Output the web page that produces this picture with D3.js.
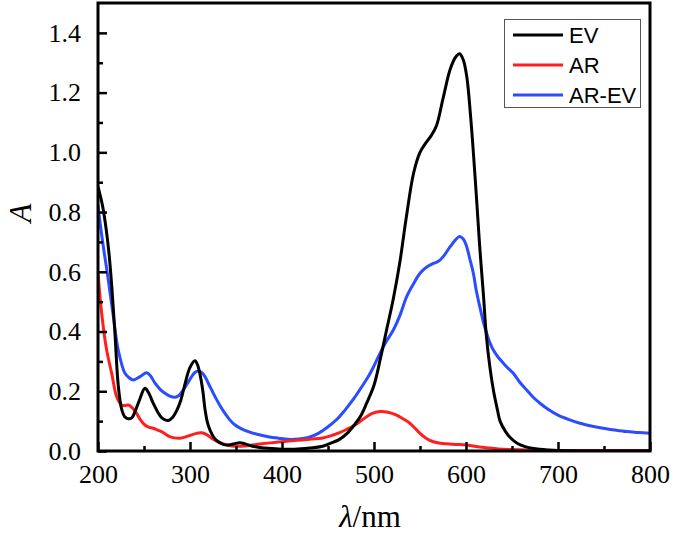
<!DOCTYPE html>
<html><head><meta charset="utf-8">
<script src="https://cdn.jsdelivr.net/npm/d3@7"></script>
<style>body{margin:0;background:#fff}</style>
</head><body>
<svg id="c" width="673" height="535"></svg>
<script>
const evWl = [200,205,209,212,215,218.5,222,225.7,229,233,237,240,245,251,255,260,265,269,273,276.5,281,285.5,290,294.6,300,305.4,308,311,314,316.3,319,322,326,331,336,342,348,354,360,367,376,385,400,414,430,443,452,462,471,480,486,492,500,507,514,521,528,535,543,550,556,562,568,575,583,589,593,597,601,605,608,612,615,619,622,626,630,634,637,643,648,656,666,680,700,750,800];
const evA  = [0.885,0.82,0.74,0.66,0.55,0.39,0.22,0.14,0.115,0.108,0.112,0.13,0.17,0.21,0.195,0.16,0.13,0.112,0.104,0.102,0.112,0.135,0.17,0.225,0.28,0.302,0.29,0.255,0.2,0.14,0.095,0.068,0.045,0.03,0.022,0.02,0.024,0.028,0.024,0.017,0.012,0.009,0.006,0.006,0.01,0.015,0.025,0.038,0.06,0.093,0.12,0.16,0.22,0.31,0.41,0.51,0.63,0.78,0.93,1.0,1.03,1.055,1.09,1.18,1.28,1.32,1.33,1.31,1.25,1.12,1.0,0.82,0.68,0.52,0.39,0.28,0.2,0.14,0.1,0.065,0.045,0.025,0.013,0.006,0.002,0.0,0.0];

const arWl = [200,204,209.4,214.9,220.3,225.7,229,233,237,242,246,251,255,260,265,269,274,278,283,289,295,301.8,307,312.7,318,323.5,329,334.4,340,345.3,352,359.8,368,377.9,390,399.6,410,421.4,432,443,452,461.2,470,479.3,488,497.5,506.5,515,524.6,532,539,545,550,557,564.5,572,579,590,600,611,622.5,635,648,670,700,750,800];
const arA  = [0.595,0.461,0.338,0.26,0.182,0.154,0.152,0.154,0.145,0.126,0.105,0.087,0.08,0.076,0.07,0.065,0.055,0.048,0.044,0.043,0.047,0.054,0.059,0.061,0.055,0.043,0.033,0.026,0.02,0.017,0.016,0.017,0.02,0.024,0.028,0.031,0.034,0.037,0.04,0.043,0.05,0.06,0.072,0.087,0.106,0.125,0.132,0.13,0.12,0.107,0.093,0.075,0.059,0.042,0.031,0.026,0.024,0.022,0.02,0.015,0.011,0.007,0.005,0.003,0.002,0.002,0.002];

const arevWl = [200,202,205.8,211.2,216.7,222,229.3,234,238.4,245.7,252.9,257,262,267,272.8,278,283.7,288,292.8,297,301.8,305,309.1,313,316.3,321,327.2,333,338,343,349,356,363.4,374,385,396,406.8,418,428.6,440,450.4,460,468.5,478,486.7,494,500,506.5,513,521,528.3,535.5,543,550,557,564.5,570,575,583,588,593,597,600.7,604,608,611,615,619,622.5,626,629.7,635,640.6,646,651.4,658,666,673,680.4,690,700,712,723.9,736,749,762,774.6,787,800];
const arevA  = [0.824,0.77,0.684,0.573,0.45,0.338,0.26,0.245,0.238,0.249,0.262,0.252,0.227,0.208,0.193,0.184,0.18,0.186,0.205,0.225,0.249,0.262,0.268,0.262,0.249,0.22,0.182,0.15,0.126,0.105,0.087,0.074,0.065,0.055,0.048,0.043,0.039,0.04,0.045,0.06,0.082,0.107,0.137,0.175,0.215,0.25,0.285,0.327,0.365,0.405,0.455,0.517,0.56,0.595,0.615,0.628,0.635,0.65,0.685,0.705,0.718,0.71,0.685,0.645,0.595,0.54,0.483,0.43,0.394,0.362,0.338,0.314,0.294,0.276,0.26,0.232,0.204,0.18,0.16,0.138,0.12,0.105,0.093,0.084,0.076,0.07,0.065,0.062,0.059];

const xTicks = [200,300,400,500,600,700,800];
const yTicks = [0.0,0.2,0.4,0.6,0.8,1.0,1.2,1.4];
const seriesNames = ["EV","AR","AR-EV"];
const seriesColors = ["#000000","#ff1f1f","#2b4cff"];

const svg = d3.select("#c");
const L = 98, R = 650, T = 3, B = 451;
const x = d3.scaleLinear().domain([200,800]).range([L,R]);
const y = d3.scaleLinear().domain([0,1.5]).range([B,T]);

svg.append("defs").append("clipPath").attr("id","pc")
  .append("rect").attr("x",L).attr("y",T).attr("width",R-L).attr("height",B-T);

const line = d3.line().x(d=>x(d[0])).y(d=>y(d[1])).curve(d3.curveCatmullRom.alpha(0.5));
const series = [
  d3.zip(evWl, evA),
  d3.zip(arWl, arA),
  d3.zip(arevWl, arevA)
];
const g = svg.append("g").attr("clip-path","url(#pc)");
[2,1,0].forEach(i=>{
  g.append("path").attr("d", line(series[i])).attr("fill","none")
   .attr("stroke", seriesColors[i]).attr("stroke-width",3).attr("stroke-linejoin","round");
});

const serif = "'Liberation Serif','Times New Roman',serif";
const xAxis = d3.axisBottom(x).tickValues(xTicks).tickSize(-9).tickFormat(d3.format("d")).tickPadding(14);
const xMinor = d3.axisBottom(x).tickValues(d3.range(250,800,100)).tickSize(-5).tickFormat("");
const yAxis = d3.axisLeft(y).tickValues(yTicks).tickSize(-9).tickFormat(d3.format(".1f")).tickPadding(17);
const yMinor = d3.axisLeft(y).tickValues(d3.range(0.1,1.5,0.2)).tickSize(-5).tickFormat("");

function style(sel){
  sel.attr("font-family", serif).attr("font-size", 26);
  sel.select(".domain").remove();
  sel.selectAll(".tick line").attr("stroke","#000").attr("stroke-width",2.5);
  sel.selectAll("text").attr("fill","#000").style("font-family", serif).style("font-size","26px");
}
svg.append("g").attr("transform",`translate(0,${B})`).call(xAxis).call(style);
svg.append("g").attr("transform",`translate(0,${B})`).call(xMinor).call(style);
svg.append("g").attr("transform",`translate(${L},0)`).call(yAxis).call(style);
svg.append("g").attr("transform",`translate(${L},0)`).call(yMinor).call(style);

svg.append("rect").attr("x",L).attr("y",T).attr("width",R-L).attr("height",B-T)
  .attr("fill","none").attr("stroke","#000").attr("stroke-width",3);

svg.append("text").attr("transform","translate(31,213) rotate(-90)")
  .attr("text-anchor","middle").style("font-family",serif)
  .attr("font-style","italic").attr("font-size",31).text("A");
const xt = svg.append("text").attr("x",370).attr("y",527).attr("text-anchor","middle")
  .style("font-family",serif).attr("font-size",31);
xt.append("tspan").attr("font-style","italic").text("λ");
xt.append("tspan").text("/nm");

const lg = svg.append("g");
lg.append("rect").attr("x",504.5).attr("y",19.5).attr("width",136).attr("height",88)
  .attr("fill","#fff").attr("stroke","#555").attr("stroke-width",1);
seriesNames.forEach((n,i)=>{
  const yy = 35 + i*30;
  lg.append("line").attr("x1",513).attr("x2",563).attr("y1",yy).attr("y2",yy)
    .attr("stroke",seriesColors[i]).attr("stroke-width",3);
  lg.append("text").attr("x",569).attr("y",yy).attr("dy","0.36em")
    .style("font-family","'Liberation Sans',Arial,sans-serif").attr("font-size",22).text(n);
});
</script>
</body></html>
